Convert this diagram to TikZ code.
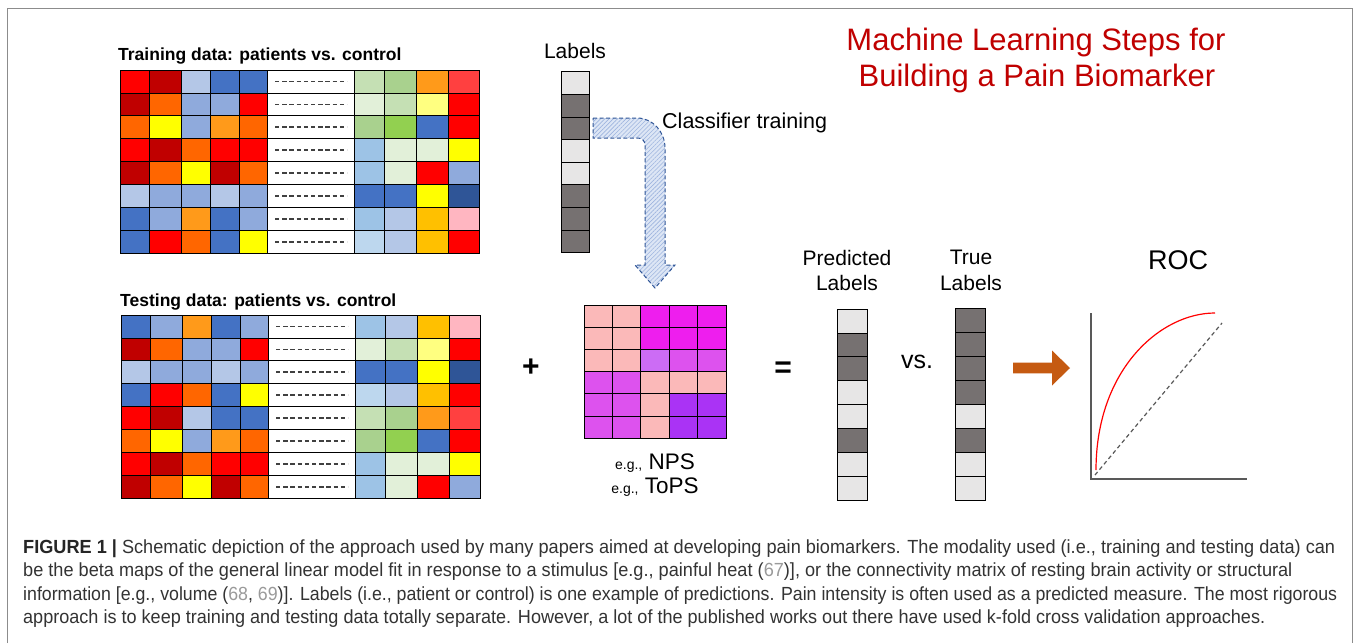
\documentclass[tikz,border=0pt]{standalone}
\usepackage{fontspec}
\usepackage{graphicx}
\setmainfont{Liberation Sans}
\newfontfamily\capfont{Liberation Sans}[FakeStretch=0.95]
\usetikzlibrary{patterns.meta}

% heat-map palette
\definecolor{rd}{HTML}{FF0000}
\definecolor{dr}{HTML}{C00000}
\definecolor{lb}{HTML}{B4C7E7}
\definecolor{bl}{HTML}{4472C4}
\definecolor{mb}{HTML}{8FAADC}
\definecolor{or}{HTML}{FF6600}
\definecolor{o2}{HTML}{FF9A1A}
\definecolor{ye}{HTML}{FFFF00}
\definecolor{lg}{HTML}{C5E0B4}
\definecolor{gr}{HTML}{A9D18E}
\definecolor{bg}{HTML}{92D050}
\definecolor{vg}{HTML}{E2F0D9}
\definecolor{ly}{HTML}{FFFF80}
\definecolor{sk}{HTML}{9DC3E6}
\definecolor{db}{HTML}{2F5597}
\definecolor{am}{HTML}{FFC000}
\definecolor{pk}{HTML}{FFB6C1}
\definecolor{pb}{HTML}{BDD7EE}
\definecolor{lr}{HTML}{FF4040}
% weight-map palette
\definecolor{wp}{HTML}{FBB9B9}
\definecolor{wm}{HTML}{EE1EEE}
\definecolor{wv}{HTML}{CC6CF5}
\definecolor{wn}{HTML}{DD52EE}
\definecolor{wu}{HTML}{AA33F5}
% label cells
\definecolor{lt}{HTML}{E7E6E6}
\definecolor{dk}{HTML}{767171}
% others
\definecolor{titlered}{HTML}{C00000}
\definecolor{arrowblue}{HTML}{2F5597}
\definecolor{hatchfill}{HTML}{DDE6F5}
\definecolor{hatchline}{HTML}{9DB4DE}
\definecolor{rocorange}{HTML}{C55A11}
\definecolor{axisgray}{HTML}{595959}
\definecolor{framegray}{HTML}{8C8C8C}
\definecolor{captxt}{HTML}{333333}
\definecolor{refgray}{HTML}{9A9A9A}

\tikzset{
  cell/.style={draw=black, line width=0.8pt},
  dashline/.style={draw=black!75, line width=1.6pt, dash pattern=on 4.4pt off 2.8pt},
  lbl/.style={inner sep=0pt, anchor=base, font=\fontsize{21}{24}\selectfont},
  hdr/.style={inner sep=0pt, anchor=base west, font=\fontsize{17.5}{20}\selectfont\bfseries},
  capline/.style={inner sep=0pt, anchor=base west, text=captxt, font=\fontsize{19}{22}\selectfont\capfont},
}

% heat map: #1 = left x, #2 = top y, #3 = rows of nine colours
\newcommand\heatmap[3]{%
  \foreach \rowc [count=\r from 0] in {#3} {
    \foreach \c [count=\k from 0] in \rowc {
      \pgfmathsetmacro\xl{#1+{0,29,61,90,119,234.5,264.5,296,328}[\k]}
      \pgfmathsetmacro\xr{#1+{29,61,90,119,147.5,264.5,296,328,359}[\k]}
      \filldraw[fill=\c, cell] (\xl,#2+\r*22.9) rectangle (\xr,#2+\r*22.9+22.9);
    }
    \filldraw[fill=white, cell] (#1+147.5,#2+\r*22.9) rectangle (#1+234.5,#2+\r*22.9+22.9);
    \draw[dashline] (#1+155,#2+\r*22.9+11.45) -- (#1+227,#2+\r*22.9+11.45);
  }
  \draw[line width=1pt] (#1,#2) rectangle (#1+359,#2+8*22.9);
}

% label column: #1 = left x, #2 = top y, #3 = width, #4 = cell height, #5 = colours
\newcommand\labcol[5]{%
  \foreach \s [count=\i from 0] in {#5} {
    \filldraw[fill=\s, cell] (#1,#2+\i*#4) rectangle (#1+#3,#2+\i*#4+#4);
  }
}

% caption line set to a given width
\newcommand\capfit[2]{\resizebox{#1}{\height}{#2}}

\begin{document}
\begin{tikzpicture}[x=1pt,y=-1pt]
\useasboundingbox (0,0) rectangle (1357,643);
\fill[white] (0,0) rectangle (1357,643);

% outer frame
\draw[framegray, line width=1pt] (7.5,643) -- (7.5,8.5) -- (1352.5,8.5) -- (1352.5,643);

% title
\node[inner sep=0pt, anchor=base, text=titlered, font=\fontsize{31}{34}\selectfont] (title1) at (1036,50) {Machine Learning Steps for};
\node[inner sep=0pt, anchor=base, text=titlered, font=\fontsize{31}{34}\selectfont] (title2) at (1037,86) {Building a Pain Biomarker};

% training data
\node[hdr] (trainhdr) at (118,60) {Training data: patients vs. control};
\heatmap{120}{70}{
  {rd,dr,lb,bl,bl,lg,gr,o2,lr},
  {dr,or,mb,mb,rd,vg,lg,ly,rd},
  {or,ye,mb,o2,or,gr,bg,bl,rd},
  {rd,dr,or,rd,rd,sk,vg,vg,ye},
  {dr,or,ye,dr,or,sk,vg,rd,mb},
  {lb,mb,mb,lb,mb,bl,bl,ye,db},
  {bl,mb,o2,bl,mb,sk,lb,am,pk},
  {bl,rd,or,bl,ye,pb,lb,am,rd}}
\coordinate (train) at (299,161);

% testing data
\node[hdr] (testhdr) at (120,306) {Testing data: patients vs. control};
\heatmap{121}{315}{
  {bl,mb,o2,bl,mb,sk,lb,am,pk},
  {dr,or,mb,mb,rd,vg,lg,ly,rd},
  {lb,mb,mb,lb,mb,bl,bl,ye,db},
  {bl,rd,or,bl,ye,pb,lb,am,rd},
  {rd,dr,lb,bl,bl,lg,gr,o2,lr},
  {or,ye,mb,o2,or,gr,bg,bl,rd},
  {rd,dr,or,rd,rd,sk,vg,vg,ye},
  {dr,or,ye,dr,or,sk,vg,rd,mb}}
\coordinate (test) at (300,406);

% training labels
\node[lbl] (labhdr) at (575,58) {Labels};
\labcol{561}{71.7}{28.3}{22.6}{lt,dk,dk,lt,lt,dk,dk,dk}

% classifier-training arrow
\path[fill=hatchfill] (593,118) -- (637,118) .. controls (653,118) and (665,132) .. (665,148)
  -- (665,265) -- (675,265) -- (655,288) -- (635,265) -- (645,265) -- (645,145)
  .. controls (645,141) and (642,138) .. (638,138) -- (593,138) -- cycle;
\path[pattern={Lines[angle=45,distance=3pt,line width=0.6pt]}, pattern color=hatchline]
  (593,118) -- (637,118) .. controls (653,118) and (665,132) .. (665,148)
  -- (665,265) -- (675,265) -- (655,288) -- (635,265) -- (645,265) -- (645,145)
  .. controls (645,141) and (642,138) .. (638,138) -- (593,138) -- cycle;
\draw[arrowblue, line width=1pt, dash pattern=on 4pt off 2.5pt]
  (593,118) -- (637,118) .. controls (653,118) and (665,132) .. (665,148)
  -- (665,265) -- (675,265) -- (655,288) -- (635,265) -- (645,265) -- (645,145)
  .. controls (645,141) and (642,138) .. (638,138) -- (593,138) -- cycle;
\node[inner sep=0pt, anchor=base west, font=\fontsize{21.5}{24}\selectfont] (clf) at (662,128) {Classifier training};

% operator signs
\node[inner sep=0pt, font=\fontsize{30}{32}\selectfont\bfseries] (plus) at (531,368) {+};
\node[inner sep=0pt, font=\fontsize{30}{32}\selectfont\bfseries] (equals) at (783,370) {=};

% weight map
\foreach \rowc [count=\r from 0] in {
  {wp,wp,wm,wm,wm},
  {wp,wp,wm,wm,wm},
  {wp,wp,wv,wn,wn},
  {wn,wn,wp,wp,wp},
  {wn,wn,wp,wu,wu},
  {wn,wn,wp,wu,wu}} {
  \foreach \c [count=\k from 0] in \rowc {
    \filldraw[fill=\c, cell] (584+\k*28.4,305+\r*22.2) rectangle (584+\k*28.4+28.4,305+\r*22.2+22.2);
  }
}
\draw[line width=1pt] (584,305) rectangle (726,438.2);
\node[lbl, font=\fontsize{22.5}{24}\selectfont] (nps) at (655,469) {{\fontsize{14}{16}\selectfont e.g.,} NPS};
\node[lbl, font=\fontsize{22.5}{24}\selectfont] (tops) at (655,493) {{\fontsize{14}{16}\selectfont e.g.,} ToPS};

% predicted and true labels
\node[lbl] (predhdr1) at (847,265) {Predicted};
\node[lbl] (predhdr2) at (847,290) {Labels};
\labcol{837.7}{309}{29.6}{23.9}{lt,dk,dk,lt,lt,dk,lt,lt}
\node[inner sep=0pt, anchor=base, font=\fontsize{25}{28}\selectfont] (vs) at (917,368) {vs.};
\node[lbl] (truehdr1) at (971,264) {True};
\node[lbl] (truehdr2) at (971,290) {Labels};
\labcol{955.7}{308}{29.3}{24}{dk,dk,dk,dk,lt,dk,lt,lt}

% block arrow towards the ROC plot
\fill[rocorange] (1013,362.7) -- (1052,362.7) -- (1052,350.5) -- (1070,368) -- (1052,385.5)
  -- (1052,373.3) -- (1013,373.3) -- cycle;

% ROC plot
\node[inner sep=0pt, anchor=base, font=\fontsize{27}{30}\selectfont] (roc) at (1178,269) {ROC};
\coordinate (origin) at (1091,479);
\draw[axisgray, line width=1.5pt] (1091,313) -- (origin) -- (1247,479);
\draw[axisgray, line width=1.2pt, dash pattern=on 4pt off 3pt] (1095,475) -- (1222,323);
\draw[rd, line width=1.2pt] (1096,470) .. controls (1096,370) and (1160,313) .. (1215,313);

% caption
\node[capline] (cap1) at (23,553) {\capfit{1312pt}{{\bfseries\color{black!85}FIGURE 1 |} Schematic depiction of the approach used by many papers aimed at developing pain biomarkers. The modality used (i.e., training and testing data) can}};
\node[capline] (cap2) at (23,576.5) {\capfit{1269pt}{be the beta maps of the general linear model fit in response to a stimulus [e.g., painful heat ({\color{refgray}67})], or the connectivity matrix of resting brain activity or structural}};
\node[capline] (cap3) at (23,600) {\capfit{1314pt}{information [e.g., volume ({\color{refgray}68}, {\color{refgray}69})]. Labels (i.e., patient or control) is one example of predictions. Pain intensity is often used as a predicted measure. The most rigorous}};
\node[capline] (cap4) at (23,623.5) {\capfit{1242pt}{approach is to keep training and testing data totally separate. However, a lot of the published works out there have used k-fold cross validation approaches.}};
\end{tikzpicture}
\end{document}
